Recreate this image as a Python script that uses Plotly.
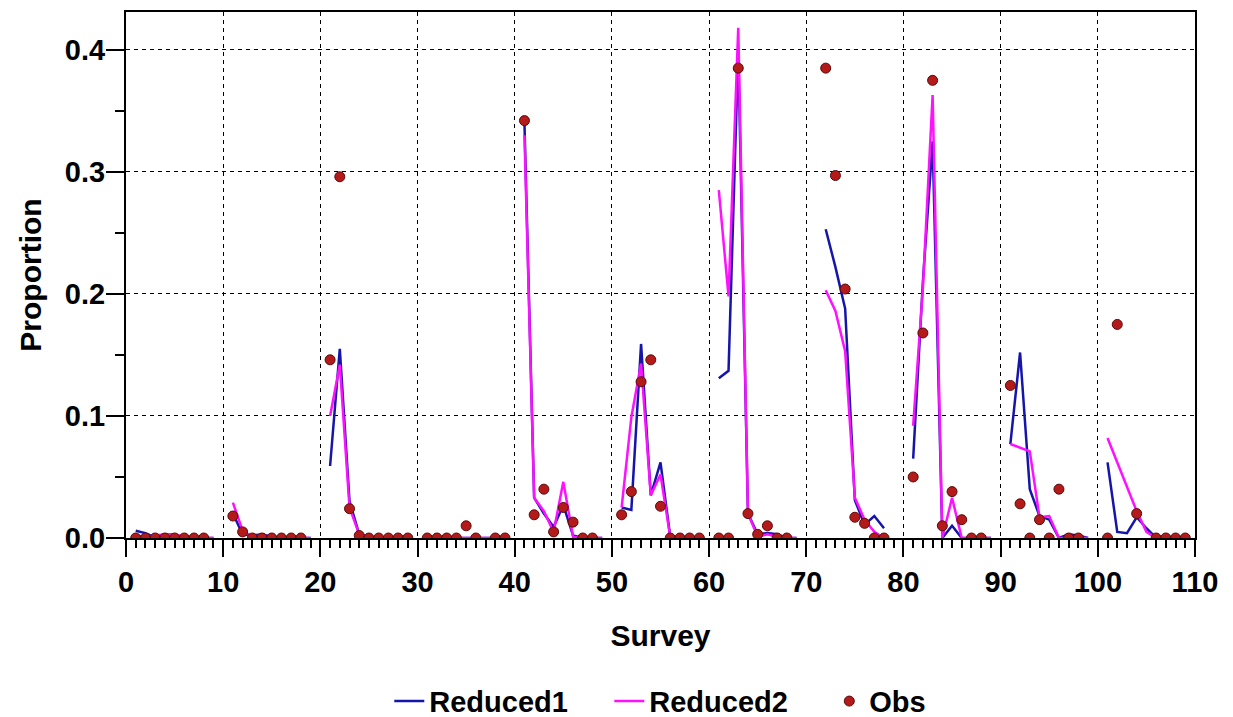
import plotly.graph_objects as go

N = None
survey = list(range(1, 110))

reduced1 = [
    0.006, 0.004, 0.0005, 0.001, 0.001, 0, 0, 0, 0, N,
    0.020, 0.003, 0.002, 0.003, 0.001, 0, 0, 0, 0, N,
    0.059, 0.155, 0.030, 0.003, 0.001, 0, 0, 0, 0, N,
    0, 0, 0, 0, 0, 0, 0, 0, 0, N,
    0.340, 0.033, 0.020, 0.009, 0.027, 0.002, 0, 0, 0, N,
    0.025, 0.023, 0.159, 0.035, 0.062, 0.001, 0, 0, 0, N,
    0.131, 0.137, 0.400, 0.020, 0.003, 0.004, 0.003, 0, 0, N,
    N, 0.253, 0.222, 0.188, 0.031, 0.011, 0.018, 0.008, N, N,
    0.065, 0.210, 0.325, 0.0, 0.010, 0, 0, 0, 0, N,
    0.077, 0.152, 0.040, 0.018, 0.015, 0.0, 0.003, 0.002, 0, N,
    0.062, 0.005, 0.004, 0.017, 0.008, 0, 0, 0, 0,
]

reduced2 = [
    0.002, 0.001, 0.002, 0.003, 0.003, 0.001, 0, 0, 0, N,
    0.029, 0.006, 0.001, 0.002, 0.001, 0, 0, 0, 0, N,
    0.100, 0.142, 0.025, 0.003, 0.001, 0, 0, 0, 0, N,
    0, 0, 0, 0, 0, 0, 0, 0, 0, N,
    0.330, 0.033, 0.022, 0.005, 0.046, 0.001, 0, 0, 0, N,
    0.025, 0.099, 0.143, 0.035, 0.052, 0.001, 0, 0, 0, N,
    0.285, 0.198, 0.418, 0.020, 0.001, 0.003, 0.001, 0, 0, N,
    N, 0.203, 0.186, 0.153, 0.033, 0.015, 0.005, 0.0, N, N,
    0.092, 0.205, 0.363, 0.0, 0.033, 0.0, 0, 0, 0, N,
    0.077, 0.074, 0.071, 0.017, 0.018, 0.0, 0, 0, 0, N,
    0.082, 0.062, 0.042, 0.022, 0.005, 0, 0, 0, 0,
]

obs = [
    0, 0, 0, 0, 0, 0, 0, 0, N, N,
    0.018, 0.005, 0, 0, 0, 0, 0, 0, N, N,
    0.146, 0.296, 0.024, 0.002, 0, 0, 0, 0, 0, N,
    0, 0, 0, 0, 0.010, 0, N, 0, 0, N,
    0.342, 0.019, 0.040, 0.005, 0.025, 0.013, 0, 0, N, N,
    0.019, 0.038, 0.128, 0.146, 0.026, 0, 0, 0, 0, N,
    0, 0, 0.385, 0.020, 0.003, 0.010, 0, 0, N, N,
    N, 0.385, 0.297, 0.204, 0.017, 0.012, 0, 0, N, N,
    0.050, 0.168, 0.375, 0.010, 0.038, 0.015, 0, 0, N, N,
    0.125, 0.028, 0, 0.015, 0, 0.040, 0, 0, N, N,
    0, 0.175, N, 0.020, N, 0, 0, 0, 0,
]

x_ticks = [0, 10, 20, 30, 40, 50, 60, 70, 80, 90, 100, 110]
y_ticks = [0.0, 0.1, 0.2, 0.3, 0.4]
y_tick_text = ["0.0", "0.1", "0.2", "0.3", "0.4"]
y_minor = [0.05, 0.15, 0.25, 0.35]

FONT = "Liberation Sans, Arial, sans-serif"
TICKFONT = dict(family=FONT, size=29, weight="bold", color="black")
TITLEFONT = dict(family=FONT, size=30, weight="bold", color="black")

fig = go.Figure()
fig.add_trace(go.Scatter(x=survey, y=reduced1, mode="lines", name="Reduced1",
                         line=dict(color="#1515AA", width=2.5), connectgaps=False))
fig.add_trace(go.Scatter(x=survey, y=reduced2, mode="lines", name="Reduced2",
                         line=dict(color="#FF10FF", width=2.5), connectgaps=False))
fig.add_trace(go.Scatter(x=survey, y=obs, mode="markers", name="Obs",
                         marker=dict(color="#B51A1A", size=10,
                                     line=dict(color="#5A0A0A", width=1))))

fig.update_layout(
    width=1233, height=717,
    margin=dict(l=126, r=38, t=10, b=179),
    paper_bgcolor="white", plot_bgcolor="white",
    font=dict(family=FONT, color="black"),
    showlegend=True,
    legend=dict(orientation="h", x=0.555, xanchor="center",
                yref="container", y=0.022, yanchor="middle",
                font=dict(family=FONT, size=29, weight="bold", color="black"),
                itemwidth=30, entrywidth=175),
)

fig.update_xaxes(
    range=[0, 110], tickmode="array", tickvals=x_ticks,
    showline=True, linecolor="black", linewidth=2, mirror=True,
    ticks="outside", ticklen=17, tickwidth=1.5, tickcolor="black",
    minor=dict(dtick=1, ticklen=8, tickwidth=1.5, tickcolor="black", ticks="outside", showgrid=False),
    showgrid=True, gridcolor="black", gridwidth=1.3, griddash="4px,4px",
    zeroline=False,
    tickfont=TICKFONT,
    ticklabelstandoff=0,
    title=dict(text="Survey", font=TITLEFONT, standoff=28),
)

fig.update_yaxes(
    range=[0, 0.431], tickmode="array", tickvals=y_ticks, ticktext=y_tick_text,
    showline=True, linecolor="black", linewidth=2, mirror=True,
    ticks="outside", ticklen=18, tickwidth=1.5, tickcolor="black",
    minor=dict(tickvals=y_minor, ticklen=9, tickwidth=1.5, tickcolor="black", ticks="outside", showgrid=False),
    showgrid=True, gridcolor="black", gridwidth=1.3, griddash="4px,4px",
    zeroline=False,
    tickfont=TICKFONT,
    ticklabelstandoff=-5,
    title=dict(text="Proportion", font=TITLEFONT, standoff=14),
)

fig.write_html("out.html")
